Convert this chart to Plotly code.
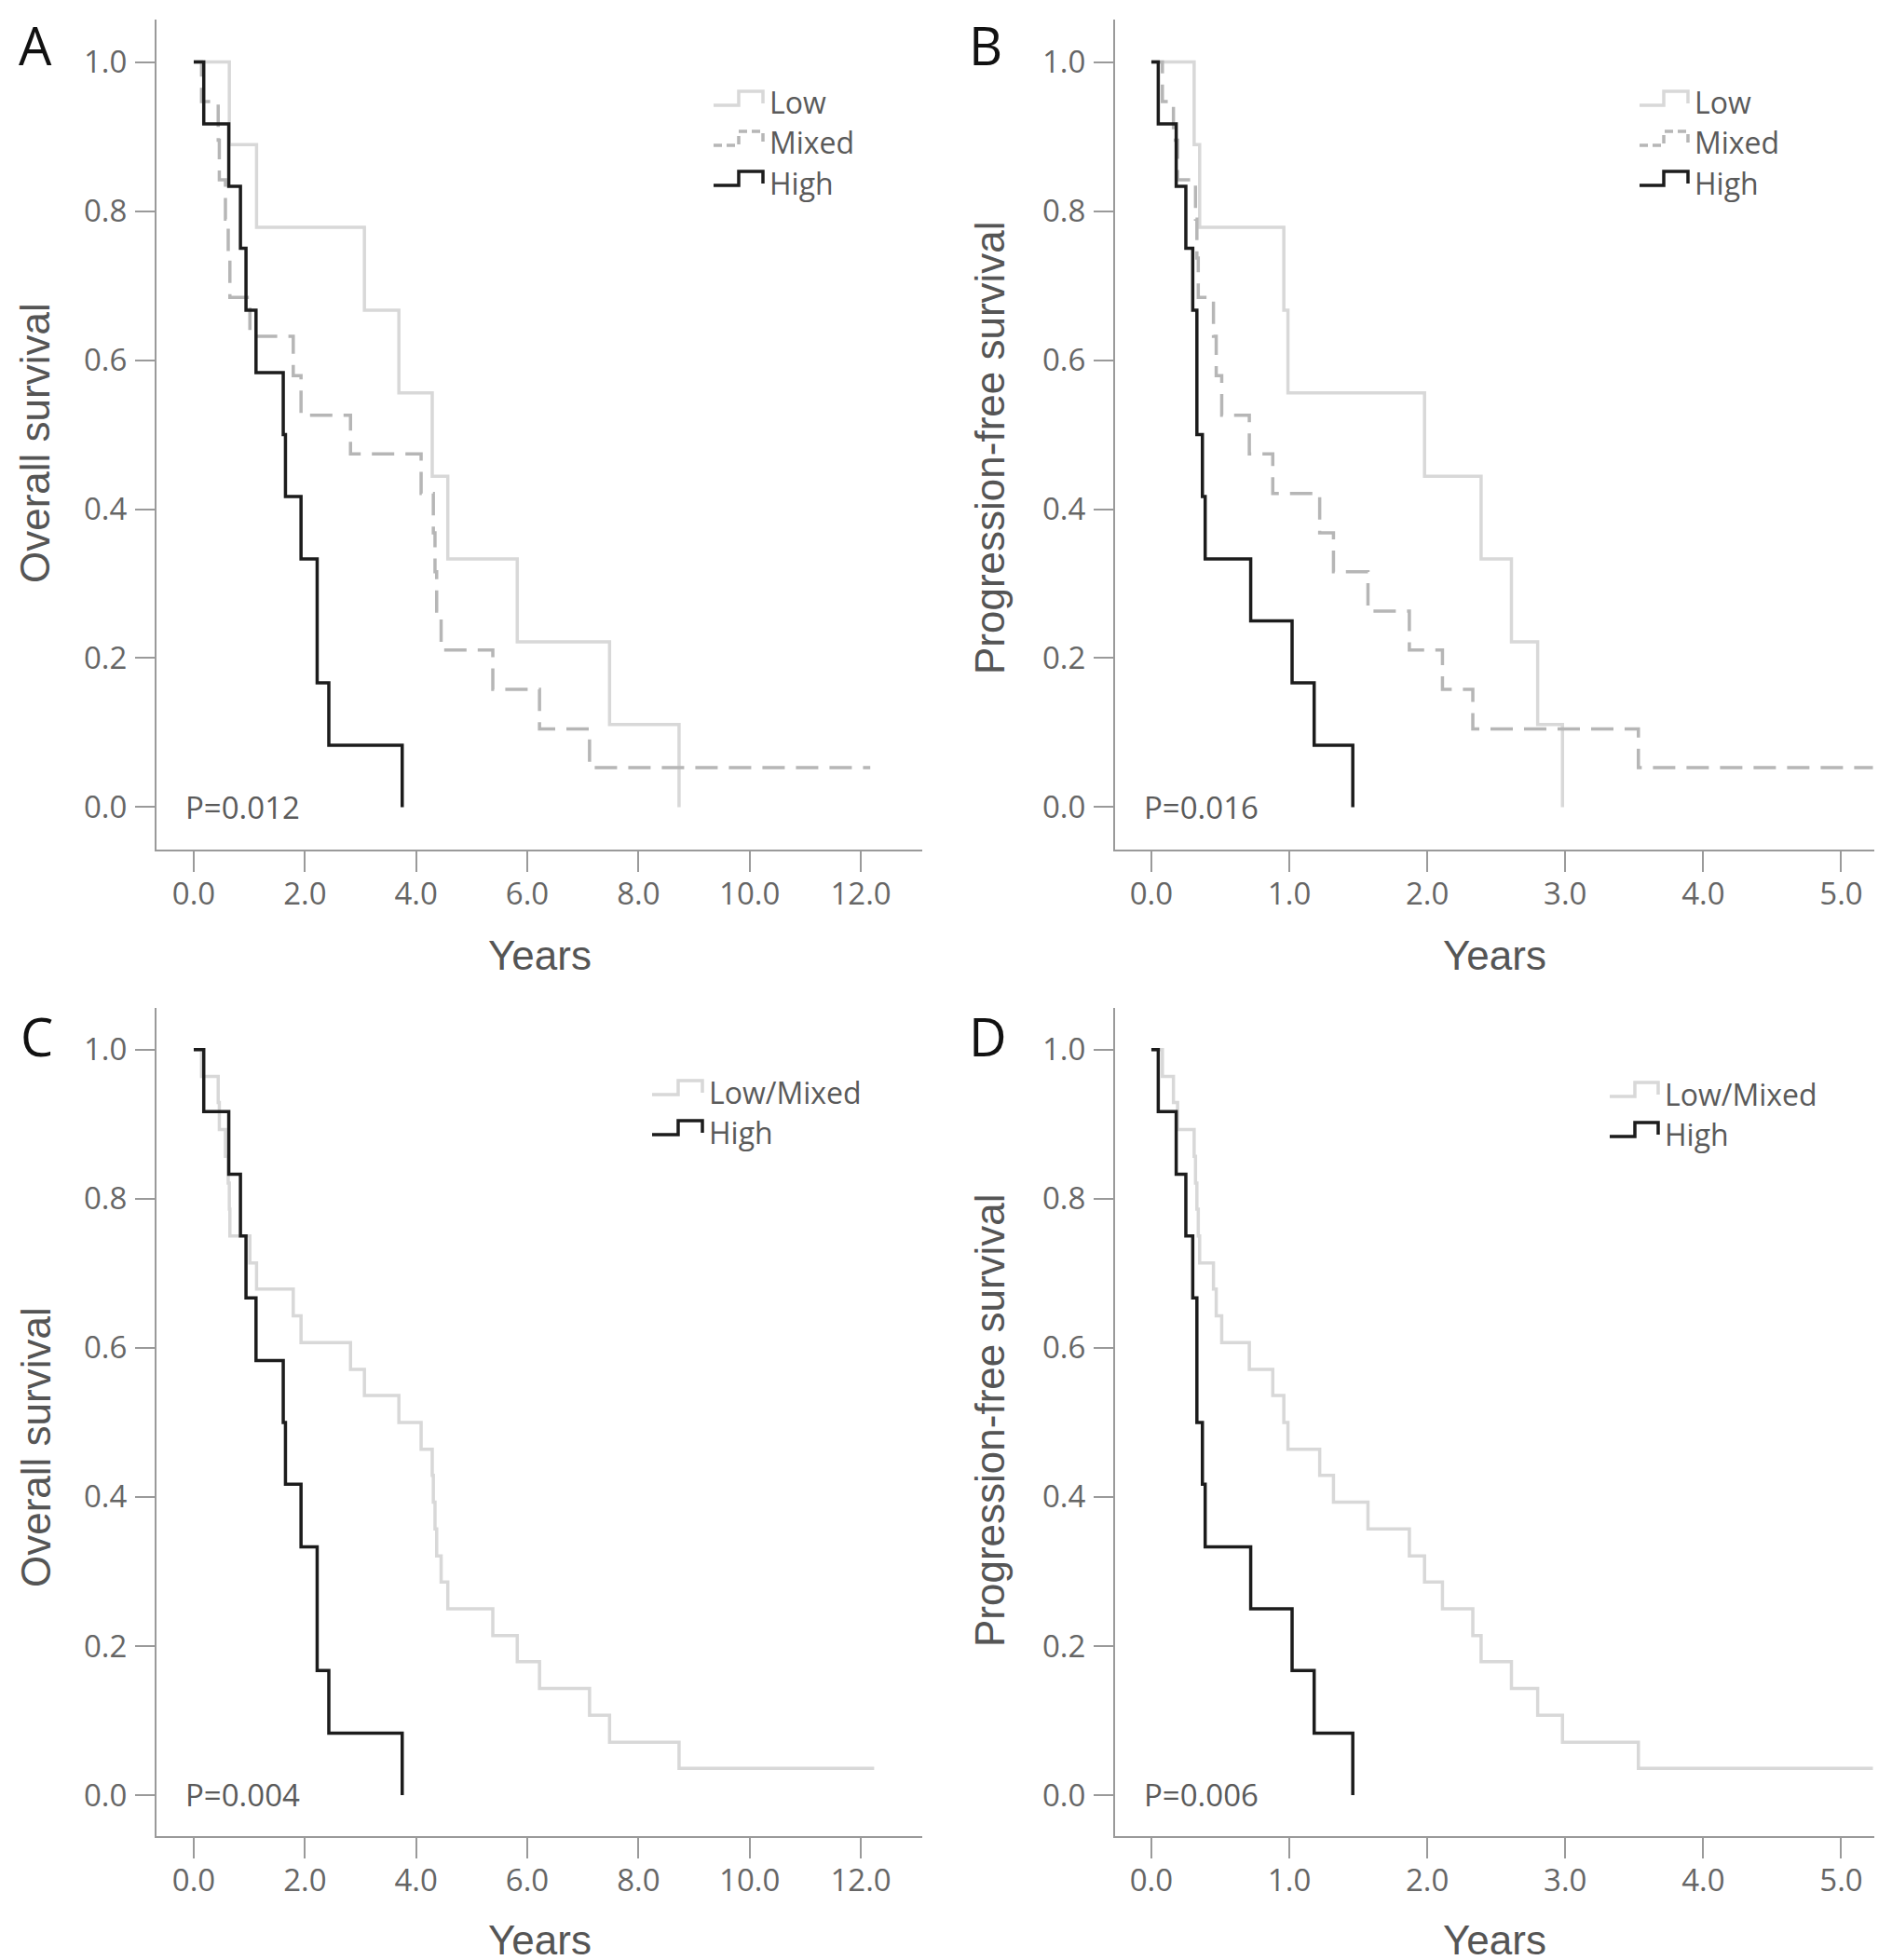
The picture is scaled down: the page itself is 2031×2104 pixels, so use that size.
import plotly.graph_objects as go

# ---- data (years, survival proportion) ----
# Panel A: overall survival, three groups
a_low_t = [0.64, 1.13, 3.07, 3.69, 4.29, 4.57, 5.82, 7.48, 8.73]
a_low_s = [0.889, 0.778, 0.667, 0.556, 0.444, 0.333, 0.222, 0.111, 0.0]
a_mixed_t = [0.14, 0.44, 0.46, 0.57, 0.62, 0.65, 1.01, 1.79, 1.93, 2.82,
             4.09, 4.31, 4.34, 4.37, 4.45, 5.38, 6.22, 7.12]
a_mixed_s = [0.947, 0.895, 0.842, 0.789, 0.737, 0.684, 0.632, 0.579, 0.526, 0.474,
             0.421, 0.368, 0.316, 0.263, 0.211, 0.158, 0.105, 0.053]
a_mixed_end = 12.17
a_high_t = [0.18, 0.63, 0.84, 0.94, 1.12, 1.61, 1.65, 1.93, 2.22, 2.43, 3.75]
a_high_s = [0.917, 0.833, 0.750, 0.667, 0.583, 0.500, 0.417, 0.333, 0.167, 0.083, 0.0]

# Panel B: progression-free survival, three groups
b_low_t = [0.31, 0.35, 0.96, 0.99, 1.98, 2.39, 2.61, 2.80, 2.98]
b_low_s = [0.889, 0.778, 0.667, 0.556, 0.444, 0.333, 0.222, 0.111, 0.0]
b_mixed_t = [0.08, 0.16, 0.19, 0.32, 0.33, 0.34, 0.45, 0.47, 0.51, 0.71,
             0.88, 1.22, 1.32, 1.57, 1.87, 2.11, 2.33, 3.53]
b_mixed_s = [0.947, 0.895, 0.842, 0.789, 0.737, 0.684, 0.632, 0.579, 0.526, 0.474,
             0.421, 0.368, 0.316, 0.263, 0.211, 0.158, 0.105, 0.053]
b_mixed_end = 5.23
b_high_t = [0.05, 0.18, 0.25, 0.30, 0.33, 0.37, 0.39, 0.72, 1.02, 1.18, 1.46]
b_high_s = [0.917, 0.833, 0.750, 0.667, 0.500, 0.417, 0.333, 0.250, 0.167, 0.083, 0.0]

# Panel C: overall survival, Low/Mixed vs High
c_lm_t = [0.14, 0.44, 0.46, 0.57, 0.62, 0.64, 0.65, 1.01, 1.13, 1.79, 1.93, 2.82,
          3.07, 3.69, 4.09, 4.29, 4.31, 4.34, 4.37, 4.45, 4.57, 5.38, 5.82, 6.22,
          7.12, 7.48, 8.73]
c_lm_s = [0.964, 0.929, 0.893, 0.857, 0.821, 0.786, 0.750, 0.714, 0.679, 0.643,
          0.607, 0.571, 0.536, 0.500, 0.464, 0.429, 0.393, 0.357, 0.321, 0.286,
          0.250, 0.214, 0.179, 0.143, 0.107, 0.071, 0.036]
c_lm_end = 12.24
c_high_t = a_high_t
c_high_s = a_high_s

# Panel D: progression-free survival, Low/Mixed vs High
d_lm_t = [0.08, 0.16, 0.19, 0.31, 0.32, 0.33, 0.34, 0.35, 0.45, 0.47, 0.51, 0.71,
          0.88, 0.96, 0.99, 1.22, 1.32, 1.57, 1.87, 1.98, 2.11, 2.33, 2.39, 2.61,
          2.80, 2.98, 3.53]
d_lm_s = [0.964, 0.929, 0.893, 0.857, 0.821, 0.786, 0.750, 0.714, 0.679, 0.643,
          0.607, 0.571, 0.536, 0.500, 0.464, 0.429, 0.393, 0.357, 0.321, 0.286,
          0.250, 0.214, 0.179, 0.143, 0.107, 0.071, 0.036]
d_lm_end = 5.23
d_high_t = b_high_t
d_high_s = b_high_s

p_values = ["P=0.012", "P=0.016", "P=0.004", "P=0.006"]
panel_letters = ["A", "B", "C", "D"]
y_titles = ["Overall survival", "Progression-free survival",
            "Overall survival", "Progression-free survival"]
x_ticks_long = [0, 2, 4, 6, 8, 10, 12]
x_ticks_short = [0, 1, 2, 3, 4, 5]
y_ticks = [0.0, 0.2, 0.4, 0.6, 0.8, 1.0]

W, H = 2031, 2104
LOW_C = "#d8d8d8"
MIX_C = "#b6b6b6"
HIGH_C = "#1c1c1c"
AXIS_C = "#9a9a9a"
TEXT_C = "#5a5a5a"
TICK_FONT = dict(family="Open Sans", size=33, color="#666666")
TITLE_FONT = dict(family="Liberation Sans", size=44, color="#555555")


def px_x(p):
    return p / W


def px_y(p):
    return 1 - p / H


fig = go.Figure()


def km(t, s, end, color, dash, xa, ya):
    xs = [0.0] + list(t)
    ys = [1.0] + list(s)
    if end is not None:
        xs.append(end)
        ys.append(s[-1])
    fig.add_trace(go.Scatter(x=xs, y=ys, mode="lines", line_shape="hv",
                             line=dict(color=color, width=3.5, dash=dash),
                             xaxis=xa, yaxis=ya, showlegend=False,
                             hoverinfo="skip"))


mixdash = "24px,12px"
km(a_low_t, a_low_s, None, LOW_C, "solid", "x", "y")
km(a_mixed_t, a_mixed_s, a_mixed_end, MIX_C, mixdash, "x", "y")
km(a_high_t, a_high_s, None, HIGH_C, "solid", "x", "y")

km(b_low_t, b_low_s, None, LOW_C, "solid", "x2", "y2")
km(b_mixed_t, b_mixed_s, b_mixed_end, MIX_C, mixdash, "x2", "y2")
km(b_high_t, b_high_s, None, HIGH_C, "solid", "x2", "y2")

km(c_lm_t, c_lm_s, c_lm_end, LOW_C, "solid", "x3", "y3")
km(c_high_t, c_high_s, None, HIGH_C, "solid", "x3", "y3")

km(d_lm_t, d_lm_s, d_lm_end, LOW_C, "solid", "x4", "y4")
km(d_high_t, d_high_s, None, HIGH_C, "solid", "x4", "y4")

# panel boxes in pixels: (left, right, top, bottom)
boxes = [(160, 982, 13, 904), (1189, 2004, 13, 904),
         (160, 982, 1074, 1963), (1189, 2004, 1074, 1963)]
x_ranges = [[-0.67, 13.105], [-0.263, 5.24], [-0.67, 13.105], [-0.263, 5.24]]
y_ranges = [[-0.0569, 1.0569], [-0.0569, 1.0569], [-0.055, 1.056], [-0.055, 1.056]]
x_tickvals = [x_ticks_long, x_ticks_short, x_ticks_long, x_ticks_short]

axes = {}
for i, (l, r, t, b) in enumerate(boxes):
    sfx = "" if i == 0 else str(i + 1)
    axes["xaxis" + sfx] = dict(
        domain=[px_x(l), px_x(r)], range=x_ranges[i], anchor="y" + sfx,
        tickvals=x_tickvals[i], ticktext=["%.1f" % v for v in x_tickvals[i]],
        showline=True, linecolor=AXIS_C, linewidth=2, ticks="outside",
        ticklen=22, tickwidth=2, tickcolor=AXIS_C, showgrid=False,
        zeroline=False, tickfont=TICK_FONT, ticklabelstandoff=-5)
    axes["yaxis" + sfx] = dict(
        domain=[px_y(b), px_y(t)], range=y_ranges[i], anchor="x" + sfx,
        tickvals=y_ticks, ticktext=["%.1f" % v for v in y_ticks],
        showline=True, linecolor=AXIS_C, linewidth=2, ticks="outside",
        ticklen=21, tickwidth=2, tickcolor=AXIS_C, showgrid=False,
        zeroline=False, tickfont=TICK_FONT, ticklabelstandoff=2)

annotations = []
shapes = []

# panel letters
letter_pos = [(10, 40), (1030, 40), (12, 1104), (1030, 1104)]
for (lx, ly), letter in zip(letter_pos, panel_letters):
    annotations.append(dict(text=letter, x=px_x(lx), y=px_y(ly), xref="paper",
                            yref="paper", xanchor="left", yanchor="middle",
                            showarrow=False,
                            font=dict(family="Open Sans", size=56, color="#111111")))

# y titles
ytitle_pos = [(30, 468), (1054, 473), (30, 1546), (1054, 1517)]
for (tx, ty), txt in zip(ytitle_pos, y_titles):
    annotations.append(dict(text=txt, x=px_x(tx), y=px_y(ty), xref="paper",
                            yref="paper", xanchor="center", yanchor="middle",
                            textangle=-90, showarrow=False, font=TITLE_FONT))

# x titles
xtitle_pos = [(571, 1017), (1596, 1017), (571, 2074), (1596, 2074)]
for tx, ty in xtitle_pos:
    annotations.append(dict(text="Years", x=px_x(tx), y=px_y(ty), xref="paper",
                            yref="paper", xanchor="center", yanchor="middle",
                            showarrow=False, font=TITLE_FONT))

# p values
for i, pv in enumerate(p_values):
    sfx = "" if i == 0 else str(i + 1)
    annotations.append(dict(text=pv, x=0.035, y=0.0, xref="x" + sfx + " domain",
                            yref="y" + sfx, xanchor="left", yanchor="middle",
                            showarrow=False,
                            font=dict(family="Open Sans", size=33, color=TEXT_C)))


# legends drawn in the SPSS style: a small step glyph followed by the label
def glyph(x0, xm, x1, yc, color, dash):
    lo = px_y(yc + 3)
    hi = px_y(yc - 12)
    path = "M %f,%f L %f,%f L %f,%f L %f,%f L %f,%f" % (
        px_x(x0), lo, px_x(xm), lo, px_x(xm), hi, px_x(x1), hi, px_x(x1), px_y(yc + 1))
    shapes.append(dict(type="path", path=path, xref="paper", yref="paper",
                       line=dict(color=color, width=3.5, dash=dash)))


legends = [
    ((758, 785, 811, 816), [102, 145, 188], ["Low", "Mixed", "High"],
     [LOW_C, MIX_C, HIGH_C], ["solid", "9px,5px", "solid"]),
    ((1752, 1778, 1804, 1809), [102, 145, 188], ["Low", "Mixed", "High"],
     [LOW_C, MIX_C, HIGH_C], ["solid", "9px,5px", "solid"]),
    ((692, 720, 746, 751), [1164, 1207], ["Low/Mixed", "High"],
     [LOW_C, HIGH_C], ["solid", "solid"]),
    ((1720, 1747, 1772, 1777), [1166, 1209], ["Low/Mixed", "High"],
     [LOW_C, HIGH_C], ["solid", "solid"]),
]
for (gx0, gxm, gx1, tx), rows, labels, colors, dashes in legends:
    for yc, lab, col, dsh in zip(rows, labels, colors, dashes):
        glyph(gx0, gxm, gx1, yc, col, dsh)
        annotations.append(dict(text=lab, x=px_x(tx), y=px_y(yc), xref="paper",
                                yref="paper", xanchor="left", yanchor="middle",
                                showarrow=False,
                                font=dict(family="Open Sans", size=32, color=TEXT_C)))

fig.update_layout(width=W, height=H, margin=dict(l=0, r=0, t=0, b=0),
                  paper_bgcolor="white", plot_bgcolor="white",
                  annotations=annotations, shapes=shapes, **axes)

fig.write_html("out.html")
